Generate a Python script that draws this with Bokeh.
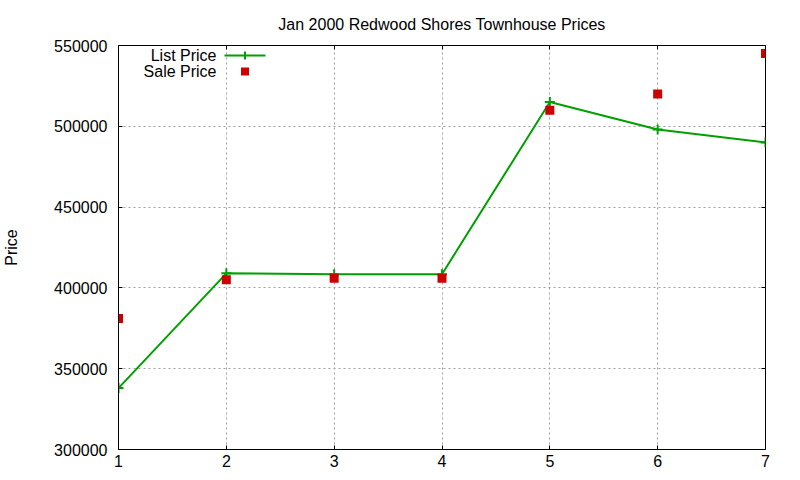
import numpy as np
from bokeh.embed import file_html
from bokeh.models import (BasicTickFormatter, BoxAnnotation, ColumnDataSource,
                          CustomLabelingPolicy, FixedTicker, Label, LinearAxis, Range1d)
from bokeh.plotting import figure
from bokeh.resources import INLINE

# data
months = [1, 2, 3, 4, 5, 6, 7]
list_price = [338000, 409000, 408500, 408500, 515000, 498000, 490000]
sale_price = [381000, 405000, 406000, 406000, 510000, 520000, 545000]
x_ticks = [1, 2, 3, 4, 5, 6, 7]
y_ticks = [300000, 350000, 400000, 450000, 500000, 550000]

FONT = "Liberation Sans"
GREEN = "#00a000"
RED = "#cc0000"
FRAME_W = 647
FRAME_H = 404

source = ColumnDataSource(data=dict(x=months, list=list_price, sale=sale_price))

p = figure(frame_width=FRAME_W, frame_height=FRAME_H,
           min_border_left=109, min_border_right=26, min_border_top=45, min_border_bottom=24,
           x_range=Range1d(1, 7), y_range=Range1d(300000, 550000),
           output_backend="svg", toolbar_location=None)

p.title.text = "Jan 2000 Redwood Shores Townhouse Prices"
p.title.align = "center"
p.title.text_font = FONT
p.title.text_font_size = "16px"
p.title.text_font_style = "normal"
p.title.text_color = "#000000"
p.title.standoff = 26

p.outline_line_color = "black"
p.outline_line_width = 1
p.outline_line_alpha = 1

for grid in (p.xgrid, p.ygrid):
    grid.grid_line_color = "#a0a0a0"
    grid.grid_line_dash = "2 3"
    grid.grid_line_width = 1
p.xgrid.ticker = FixedTicker(ticks=x_ticks)
p.ygrid.ticker = FixedTicker(ticks=y_ticks)

p.xaxis.ticker = FixedTicker(ticks=x_ticks)
p.yaxis.ticker = FixedTicker(ticks=y_ticks)
p.yaxis.formatter = BasicTickFormatter(use_scientific=False)
p.yaxis.axis_label = "Price"
p.yaxis.axis_label_standoff = 31
p.yaxis.axis_label_text_font = FONT
p.yaxis.axis_label_text_font_size = "16px"
p.yaxis.axis_label_text_font_style = "normal"
p.yaxis.axis_label_text_color = "#000000"
p.yaxis.major_label_standoff = 11
p.xaxis.major_label_standoff = 5

for ax in (p.xaxis[0], p.yaxis[0]):
    ax.major_label_text_font = FONT
    ax.major_label_text_font_size = "16px"
    ax.major_label_text_color = "#000000"
    ax.axis_line_color = "black"
    ax.major_tick_in = 4
    ax.major_tick_out = 0
    ax.major_tick_line_color = "black"
    ax.minor_tick_line_color = None

# mirrored ticks on the top and right edges, gnuplot style, without labels
hide_labels = CustomLabelingPolicy(code="""
    const all = [...indices]
    for (const i of all) indices.unset(i)
    return indices
""")
for side, ticks in (("right", y_ticks), ("above", x_ticks)):
    mirror = LinearAxis(ticker=FixedTicker(ticks=ticks), major_label_policy=hide_labels)
    mirror.major_label_text_font_size = "0px"
    mirror.major_label_standoff = 0
    mirror.major_tick_in = 4
    mirror.major_tick_out = 0
    mirror.major_tick_line_color = "black"
    mirror.minor_tick_line_color = None
    mirror.axis_line_color = None
    p.add_layout(mirror, side)

p.line("x", "list", source=source, line_color=GREEN, line_width=2)
p.scatter("x", "list", source=source, marker="cross", size=10, line_color=GREEN, line_width=2)
p.scatter("x", "sale", source=source, marker="square", size=9, fill_color=RED, line_color=None)

# gnuplot-like key: text right aligned, sample to its right
key_text_right = 98
sample_left, sample_right = 106, 147
sample_mid = (sample_left + sample_right) / 2
for i, (name, color) in enumerate((("List Price", GREEN), ("Sale Price", RED))):
    y_mid = FRAME_H - 10 - 16 * i
    p.add_layout(Label(x=key_text_right, y=y_mid, x_units="screen", y_units="screen",
                       text=name, text_align="right", text_baseline="middle",
                       text_font=FONT, text_font_size="16px", text_color="#000000"))
    if i == 0:
        p.add_layout(BoxAnnotation(left=sample_left, right=sample_right, bottom=y_mid - 1, top=y_mid + 1,
                                   left_units="screen", right_units="screen",
                                   bottom_units="screen", top_units="screen",
                                   fill_color=color, fill_alpha=1, line_color=None))
        p.add_layout(BoxAnnotation(left=sample_mid - 1, right=sample_mid + 1, bottom=y_mid - 4, top=y_mid + 4,
                                   left_units="screen", right_units="screen",
                                   bottom_units="screen", top_units="screen",
                                   fill_color=color, fill_alpha=1, line_color=None))
    else:
        p.add_layout(BoxAnnotation(left=sample_mid - 4, right=sample_mid + 4, bottom=y_mid - 4, top=y_mid + 4,
                                   left_units="screen", right_units="screen",
                                   bottom_units="screen", top_units="screen",
                                   fill_color=color, fill_alpha=1, line_color=None))

open("out.html", "w").write(file_html(p, INLINE))
